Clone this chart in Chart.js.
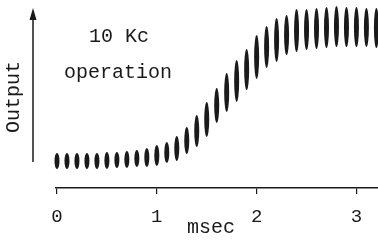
<!DOCTYPE html>
<html lang="en">

<head>
    <meta charset="UTF-8">
    <title>10 Kc operation</title>
    <script src="https://cdn.jsdelivr.net/npm/chart.js"></script>
    <style>
        body {
            margin: 0;
            background-color: white
        }
    </style>
</head>

<body>
    <canvas id="mycanvas" width="378" height="240"></canvas>
    <script>
        // one burst every 0.1 msec (10 Kc)
        const times = [0, 0.1, 0.2, 0.3, 0.4, 0.5, 0.6, 0.7, 0.8, 0.9,
            1.0, 1.1, 1.2, 1.3, 1.4, 1.5, 1.6, 1.7, 1.8, 1.9,
            2.0, 2.1, 2.2, 2.3, 2.4, 2.5, 2.6, 2.7, 2.8, 2.9,
            3.0, 3.1, 3.2]
        // bottom and top of each burst (arbitrary output units)
        const lowValues = [19, 19, 19, 19, 19, 19, 20, 20, 21, 21,
            22, 25, 27, 34, 41, 51, 65, 76, 86, 98,
            109, 120, 126, 133, 136, 138, 139, 140, 141, 141,
            141, 141, 140]
        const highValues = [35, 35, 35, 35, 35, 36, 36, 37, 38, 40,
            43, 46, 52, 61, 73, 86, 100, 115, 128, 139,
            153, 162, 170, 173, 179, 179, 180, 181, 182, 181,
            181, 180, 180]
        const tickValues = [0, 1, 2, 3]
        const xTitle = 'msec'
        const yTitle = 'Output'
        const noteLines = ['10 Kc', 'operation']

        const monoFont = "'Liberation Mono', 'DejaVu Sans Mono', monospace"
        const ink = '#1a1a1a'

        // bursts drawn as spindles on top of the (transparent) bar elements
        const burstPlugin = {
            id: 'bursts',
            afterDatasetsDraw(chart) {
                const ctx = chart.ctx
                const meta = chart.getDatasetMeta(0)
                ctx.save()
                ctx.fillStyle = ink
                meta.data.forEach(el => {
                    const { x, y, base, width } = el.getProps(['x', 'y', 'base', 'width'], true)
                    ctx.beginPath()
                    ctx.ellipse(x, (y + base) / 2, width / 2, Math.abs(base - y) / 2, 0, 0, Math.PI * 2)
                    ctx.fill()
                })
                ctx.restore()
            }
        }

        // y arrow + note text
        const decorPlugin = {
            id: 'decor',
            afterDraw(chart) {
                const ctx = chart.ctx
                const ax = chart.chartArea.left - 23
                ctx.save()
                ctx.strokeStyle = ink
                ctx.fillStyle = ink
                ctx.lineWidth = 1.5
                ctx.beginPath()
                ctx.moveTo(ax, 162)
                ctx.lineTo(ax, 16)
                ctx.stroke()
                ctx.beginPath()
                ctx.moveTo(ax, 8)
                ctx.lineTo(ax - 3.5, 20)
                ctx.lineTo(ax + 3.5, 20)
                ctx.closePath()
                ctx.fill()

                ctx.font = '20px ' + monoFont
                ctx.textAlign = 'center'
                ctx.textBaseline = 'alphabetic'
                ctx.fillText(noteLines[0], 119, 42)
                ctx.fillText(noteLines[1], 118, 78)
                ctx.restore()
            }
        }

        window.onload = () => {
            new Chart(document.getElementById('mycanvas'), {
                type: 'bar',
                data: {
                    datasets: [{
                        label: yTitle,
                        data: times.map((t, i) => ({ x: t, y: [lowValues[i], highValues[i]] })),
                        backgroundColor: 'rgba(0,0,0,0)',
                        borderWidth: 0,
                        barThickness: 5
                    }]
                },
                options: {
                    responsive: false,
                    animation: false,
                    layout: { padding: { top: 6, right: 0, bottom: 0, left: 0 } },
                    plugins: {
                        legend: { display: false },
                        tooltip: { enabled: false }
                    },
                    scales: {
                        x: {
                            type: 'linear',
                            offset: false,
                            min: -0.01,
                            max: 3.216,
                            afterBuildTicks: (scale) => {
                                scale.ticks = tickValues.map(v => ({ value: v }))
                            },
                            afterFit: (scale) => { scale.height = 52 },
                            border: { display: true, color: ink, width: 1.5 },
                            grid: {
                                offset: false,
                                drawOnChartArea: false,
                                drawTicks: true,
                                tickLength: 6,
                                color: ink,
                                lineWidth: 1.2
                            },
                            ticks: {
                                padding: 12,
                                color: ink,
                                font: { family: monoFont, size: 19 },
                                maxRotation: 0
                            },
                            title: {
                                display: true,
                                text: xTitle + ' ',
                                color: ink,
                                font: { family: monoFont, size: 20 },
                                padding: { top: 0, bottom: 0 }
                            }
                        },
                        y: {
                            min: 0,
                            max: 182,
                            afterFit: (scale) => { scale.width = 56 },
                            border: { display: false },
                            grid: { display: false },
                            ticks: { display: false },
                            title: {
                                display: true,
                                text: yTitle,
                                color: ink,
                                font: { family: monoFont, size: 20 },
                                padding: { top: 2, bottom: 0 }
                            }
                        }
                    }
                },
                plugins: [burstPlugin, decorPlugin]
            })
        }
    </script>
</body>

</html>
